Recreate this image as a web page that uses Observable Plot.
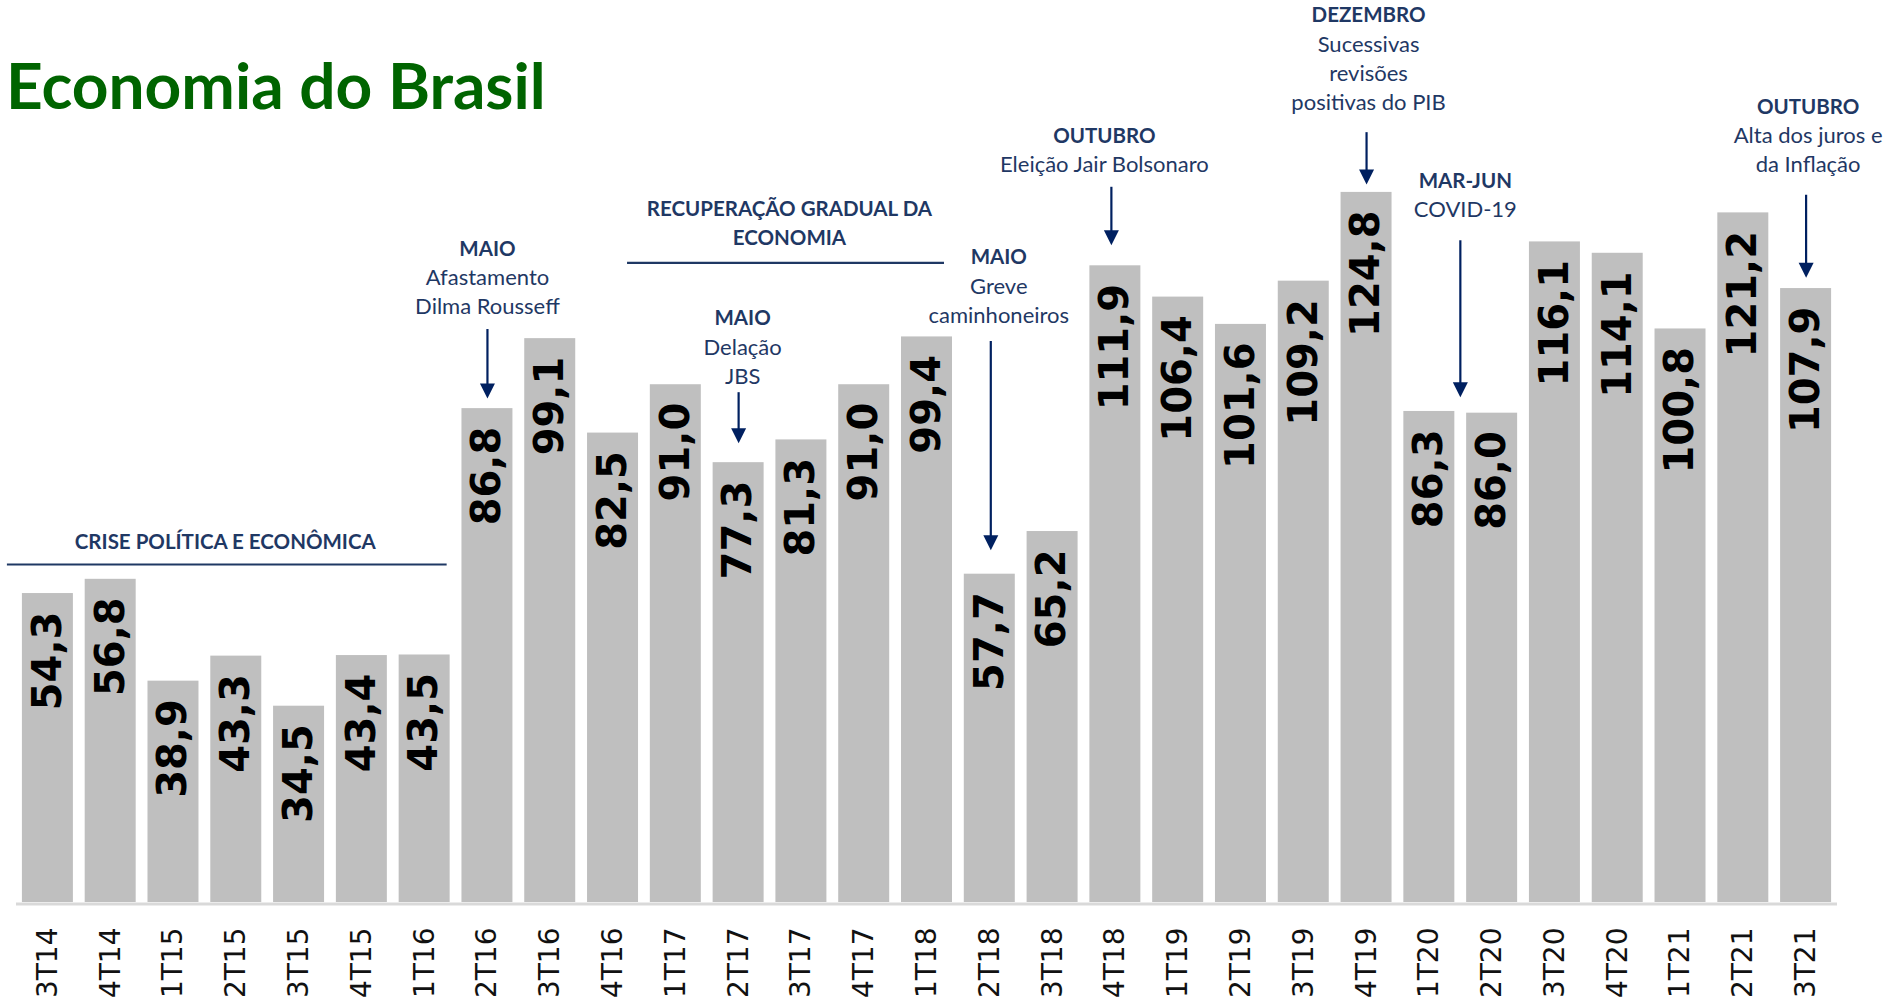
<!DOCTYPE html>
<html>
<head>
<meta charset="utf-8">
<script src="https://cdn.jsdelivr.net/npm/d3@7"></script>
<script src="https://cdn.jsdelivr.net/npm/@observablehq/plot@0.6"></script>
<style>
  html, body { margin: 0; padding: 0; background: #fff; overflow: hidden; }
  #wrap { position: relative; width: 1903px; height: 1003px; }
  #title { position: absolute; left: 6px; top: 53px; margin: 0; font-family: Lato, "Open Sans", sans-serif; font-weight: 700; font-size: 64px; line-height: 1; color: #006400; white-space: nowrap; }
</style>
</head>
<body>
<div id="wrap">
  <div id="chart"></div>
  <h1 id="title">Economia do Brasil</h1>
</div>
<script>
// Categories (quarters) and values
const quarters = ["3T14","4T14","1T15","2T15","3T15","4T15","1T16","2T16","3T16","4T16","1T17","2T17","3T17","4T17","1T18","2T18","3T18","4T18","1T19","2T19","3T19","4T19","1T20","2T20","3T20","4T20","1T21","2T21","3T21"];
const values = [54.3,56.8,38.9,43.3,34.5,43.4,43.5,86.8,99.1,82.5,91.0,77.3,81.3,91.0,99.4,57.7,65.2,111.9,106.4,101.6,109.2,124.8,86.3,86.0,116.1,114.1,100.8,121.2,107.9];

// Event annotations (anchored to a quarter; levels in chart value units)
const eventQuarters = ["2T16","2T17","2T18","4T18","4T19","1T20","3T21"];
const eventHeads = ["MAIO","MAIO","MAIO","OUTUBRO","DEZEMBRO","MAR-JUN","OUTUBRO"];
const eventBodies = ["Afastamento\nDilma Rousseff","Delação\nJBS","Greve\ncaminhoneiros","Eleição Jair Bolsonaro","Sucessivas\nrevisões\npositivas do PIB","COVID-19","Alta dos juros e\nda Inflação"];
const eventTextLevels = [116.2,104.0,114.7,136.1,157.3,128.2,141.2];
const eventArrowFrom = [100.7,89.6,98.6,125.7,135.3,116.3,124.3];
const eventArrowTo = [88.6,80.7,61.9,115.5,126.2,88.8,109.8];

// Period annotations
const periodLabels = ["CRISE POLÍTICA E ECONÔMICA","RECUPERAÇÃO GRADUAL DA\nECONOMIA"];
const periodStart = ["3T14","4T16"];
const periodEnd = ["1T16","1T18"];
const periodAnchor = ["2T15","3T17"];
const periodTextLevels = [65.7,124.2];
const periodRuleLevels = [59.4,112.4];

const data = quarters.map((q, i) => ({q, v: values[i]}));
const events = eventQuarters.map((q, i) => ({q, head: eventHeads[i], body: eventBodies[i], level: eventTextLevels[i], from: eventArrowFrom[i], to: eventArrowTo[i]}));
const periods = periodLabels.map((label, i) => ({label, start: periodStart[i], end: periodEnd[i], anchor: periodAnchor[i], level: periodTextLevels[i], rule: periodRuleLevels[i]}));

const textColor = "#1f3864";
const arrowColor = "#002060";
const annFont = "Lato, 'Open Sans', sans-serif";

// layout tweaks (styling, not data)
const eventTextDx = [0, 4, 9, -11, 2, 36, 2];
const eventArrowDx = [0, 0, 1, -4, 0, 31, 0];
const periodTextDx = [-11, -12];
const periodInsetLeft = [-15, 40];
const periodInsetRight = [3, 8];

const downTriangle = {
  draw(context) {
    context.moveTo(0, 0);
    context.lineTo(-7.5, -15);
    context.lineTo(7.5, -15);
    context.closePath();
  }
};

const fmt = v => v.toFixed(1).replace(".", ",");

const marks = [
  Plot.barY(data, {x: "q", y: "v", fill: "#bfbfbf"}),
  Plot.ruleY([0], {stroke: "#d9d9d9", strokeWidth: 3, dy: 1.5}),
  Plot.text(data, {x: "q", y: "v", text: d => fmt(d.v), rotate: -90, textAnchor: "end", lineAnchor: "middle", dy: 18, fontSize: 40, fontWeight: "bold", fontFamily: "DejaVu Sans", fill: "#000"})
];

events.forEach((e, i) => {
  marks.push(
    Plot.text([e], {x: "q", y: "level", text: "head", dx: eventTextDx[i], lineAnchor: "top", fontSize: 20.5, fontWeight: "bold", fontFamily: annFont, fill: textColor}),
    Plot.text([e], {x: "q", y: "level", text: "body", dx: eventTextDx[i], dy: 23.5, lineAnchor: "top", lineHeight: 29 / 22, fontSize: 22, fontFamily: annFont, fill: textColor}),
    Plot.ruleX([e], {x: "q", y1: "from", y2: "to", dx: eventArrowDx[i], stroke: arrowColor, strokeWidth: 2.2, insetBottom: 8}),
    Plot.dot([e], {x: "q", y: "to", dx: eventArrowDx[i], symbol: downTriangle, fill: arrowColor, stroke: "none"})
  );
});

periods.forEach((p, i) => {
  marks.push(
    Plot.text([p], {x: "anchor", y: "level", text: "label", dx: periodTextDx[i], lineAnchor: "top", lineHeight: 28.5 / 20.5, fontSize: 20.5, fontWeight: "bold", fontFamily: annFont, fill: textColor}),
    Plot.ruleY([p], {x1: "start", x2: "end", y: "rule", stroke: textColor, strokeWidth: 2.2, insetLeft: periodInsetLeft[i], insetRight: periodInsetRight[i]})
  );
});

const chart = Plot.plot({
  width: 1903,
  height: 1003,
  marginTop: 3,
  marginBottom: 101,
  marginLeft: 16,
  marginRight: 66,
  style: {background: "#fff", overflow: "visible", fontFamily: "DejaVu Sans", fontSize: "28px", color: "#111"},
  x: {domain: quarters, paddingInner: 0.188, paddingOuter: 0.094, round: false, tickRotate: -90, tickSize: 0, tickPadding: 25, label: null},
  y: {domain: [0, 158], axis: null},
  marks
});
document.getElementById("chart").appendChild(chart);
</script>
</body>
</html>
